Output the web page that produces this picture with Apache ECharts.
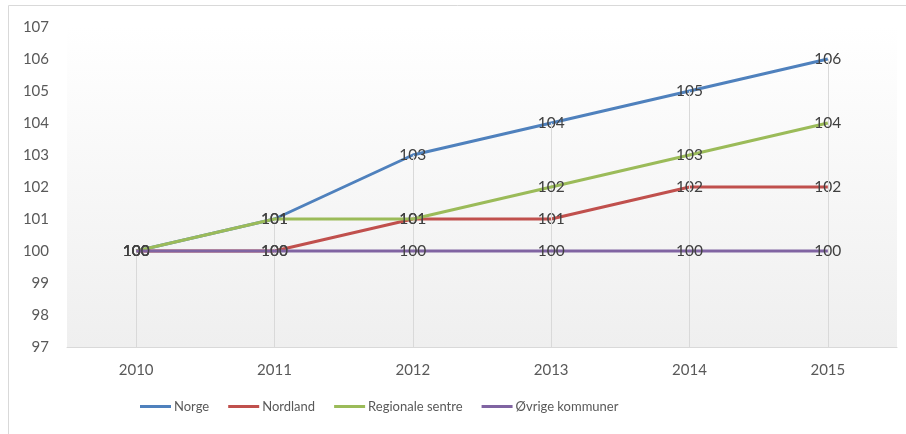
<!DOCTYPE html>
<html>
<head>
<meta charset="utf-8">
<script src="https://cdn.jsdelivr.net/npm/echarts@6/dist/echarts.min.js"></script>
<style>html,body{margin:0;padding:0;background:#fff}#c{width:906px;height:434px}</style>
</head>
<body>
<div id="c"></div>
<script>
const categories = ['2010','2011','2012','2013','2014','2015'];
const norge = [100,101,103,104,105,106];
const nordland = [100,100,101,101,102,102];
const regionale = [100,101,101,102,103,104];
const ovrige = [100,100,100,100,100,100];
const seriesNames = ['Norge','Nordland','Regionale sentre','Øvrige kommuner'];
const seriesColors = ['#4F81BD','#C0504D','#9BBB59','#8064A2'];
const yMin = 97, yMax = 107;

const allData = [norge, nordland, regionale, ovrige];
const maxPerCat = categories.map((c,i)=>Math.max(...allData.map(d=>d[i])));
const FONT = 'Lato';

const chart = echarts.init(document.getElementById('c'));
const lineSeries = allData.map((d,k)=>({
  name: seriesNames[k],
  type: 'line',
  data: d,
  z: 3 + k,
  symbol: 'circle',
  symbolSize: 0.1,
  showSymbol: true,
  color: seriesColors[k],
  lineStyle: {width: 3, color: seriesColors[k]},
  itemStyle: {color: seriesColors[k]},
  label: {show: true, position: 'inside', color: '#404040', fontSize: 15.5, fontFamily: FONT},
  emphasis: {disabled: true},
  animation: false
}));
const dropSeries = {
  name: 'drop',
  type: 'line',
  data: maxPerCat,
  z: 1,
  symbol: 'none',
  lineStyle: {opacity: 0},
  silent: true,
  animation: false,
  markLine: {
    silent: true,
    symbol: 'none',
    label: {show: false},
    lineStyle: {color: '#d9d9d9', width: 1, type: 'solid'},
    animation: false,
    data: categories.map((c,i)=>[{coord:[c, maxPerCat[i]]},{coord:[c, yMin]}])
  }
};

chart.setOption({
  animation: false,
  textStyle: {fontFamily: FONT},
  graphic: [{type:'rect', shape:{x:8.5,y:5.5,width:1000,height:1000}, style:{fill:'none', stroke:'#d9d9d9', lineWidth:1}, z:-10}],
  grid: {
    left: 67, right: 9, top: 27, bottom: 87,
    show: true, borderWidth: 0,
    backgroundColor: new echarts.graphic.LinearGradient(0,0,0,1,[{offset:0,color:'#ffffff'},{offset:1,color:'#efefef'}])
  },
  legend: {
    data: seriesNames.map(n=>({name:n, icon:'rect'})),
    left: 140, top: 400, padding: 0,
    itemWidth: 31, itemHeight: 3, itemGap: 19,
    textStyle: {color:'#595959', fontSize: 13, fontFamily: FONT, padding:[0,0,0,-2]}
  },
  xAxis: {
    type: 'category', data: categories, boundaryGap: true,
    axisLine: {lineStyle:{color:'#d9d9d9'}},
    axisTick: {show:false},
    axisLabel: {color:'#595959', fontSize: 15, fontFamily: FONT, margin: 16}
  },
  yAxis: {
    type: 'value', min: yMin, max: yMax, interval: 1,
    axisLine: {show:false}, axisTick: {show:false},
    splitLine: {show:false},
    axisLabel: {color:'#595959', fontSize: 15, fontFamily: FONT, margin: 18}
  },
  series: [dropSeries, ...lineSeries]
});
</script>
</body>
</html>
